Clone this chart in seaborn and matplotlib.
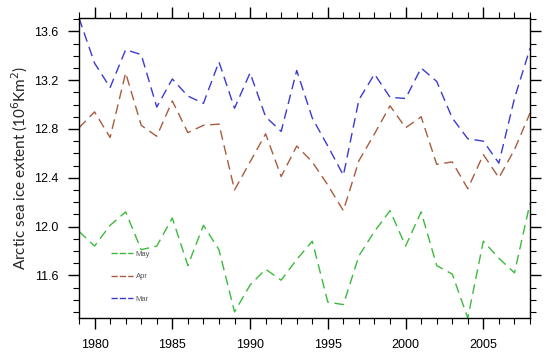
import numpy as np
import pandas as pd
import seaborn as sns
from matplotlib import pyplot as plt
from matplotlib.lines import Line2D
from matplotlib.ticker import MultipleLocator

years = list(range(1979, 2009))

mar = [13.71, 13.34, 13.14, 13.45, 13.41, 12.98, 13.21, 13.07, 13.01, 13.35,
       12.97, 13.26, 12.90, 12.78, 13.28, 12.89, 12.66, 12.42, 13.04, 13.25,
       13.06, 13.05, 13.30, 13.19, 12.89, 12.72, 12.70, 12.52, 13.05, 13.46]
apr = [12.81, 12.94, 12.73, 13.26, 12.83, 12.74, 13.03, 12.77, 12.83, 12.84,
       12.30, 12.53, 12.76, 12.41, 12.66, 12.53, 12.34, 12.13, 12.54, 12.76,
       12.99, 12.81, 12.90, 12.51, 12.53, 12.31, 12.59, 12.40, 12.63, 12.93]
may = [11.96, 11.84, 12.01, 12.12, 11.81, 11.84, 12.07, 11.68, 12.01, 11.81,
       11.30, 11.52, 11.65, 11.56, 11.73, 11.88, 11.38, 11.36, 11.76, 11.96,
       12.13, 11.84, 12.12, 11.68, 11.61, 11.25, 11.88, 11.74, 11.62, 12.19]

series = {"May": may, "Apr": apr, "Mar": mar}
colors = {"May": "#3cba3c", "Apr": "#a85c3e", "Mar": "#3a3ad2"}

sns.set_style("ticks")
plt.rcParams["font.family"] = ["Liberation Sans", "DejaVu Sans"]

fig = plt.figure(figsize=(5.5, 3.52), dpi=100)
ax = fig.add_axes([79 / 550, 34 / 352, 451 / 550, 300 / 352])

dash = (0, (7, 4))
for name, vals in series.items():
    sns.lineplot(x=years, y=vals, ax=ax, color=colors[name], linewidth=1.0,
                 linestyle=dash)

ax.set_xlim(1979, 2008)
ax.set_ylim(11.25, 13.71)
ax.xaxis.set_major_locator(MultipleLocator(5))
ax.xaxis.set_minor_locator(MultipleLocator(1))
ax.yaxis.set_minor_locator(MultipleLocator(0.1))
ax.set_yticks([11.6, 12.0, 12.4, 12.8, 13.2, 13.6])
ax.set_yticklabels(["11.6", "12.0", "12.4", "12.8", "13.2", "13.6"])

ax.tick_params(which="both", direction="out", top=True, right=True,
               colors="black", labelsize=9)
ax.tick_params(which="major", length=8, width=1, pad=7)
ax.tick_params(which="minor", length=4, width=0.8)
for sp in ax.spines.values():
    sp.set_color("black")
    sp.set_linewidth(1.0)

ax.set_xlabel("")
ax.set_ylabel("Arctic sea ice extent (10$^6$Km$^2$)", fontsize=11,
              family=["Lato", "DejaVu Sans"], labelpad=3)

handles = [Line2D([0], [0], color=colors[n], lw=1.0, linestyle=(0, (4.5, 1.5)))
           for n in series]
leg = ax.legend(handles, list(series.keys()), loc="upper left",
                bbox_to_anchor=(0.07, 0.225), frameon=False, fontsize=5.5,
                handlelength=3.0, labelspacing=2.0, handletextpad=0.3,
                borderpad=0, borderaxespad=0)
for t in leg.get_texts():
    t.set_color("#555555")

fig.savefig("out.png", dpi=100)
